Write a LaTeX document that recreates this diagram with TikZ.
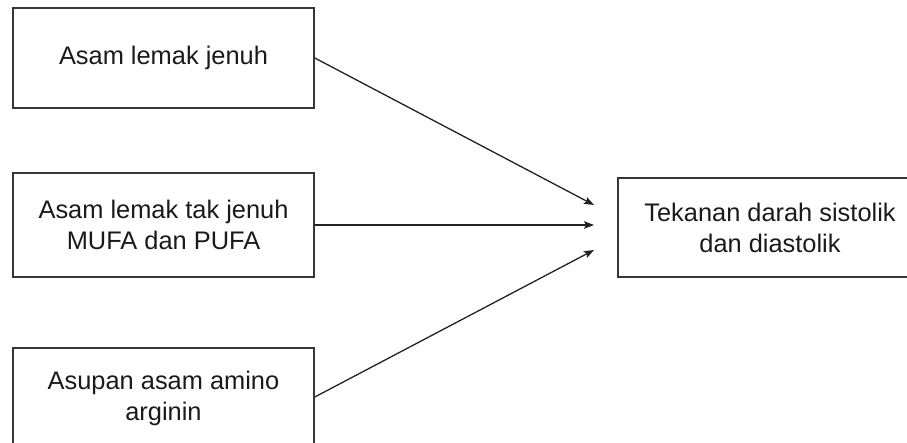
\documentclass[tikz,border=0pt]{standalone}
\usepackage{fontspec}
\setmainfont{Liberation Sans}
\usetikzlibrary{arrows.meta}
\definecolor{boxgray}{HTML}{363636}
\definecolor{textgray}{HTML}{1A1A1A}
\definecolor{linegray}{HTML}{222222}
\begin{document}
\begin{tikzpicture}[x=1pt,y=-1pt,
  box/.style={draw=boxgray, line width=1.6pt, align=center, text=textgray,
    font=\fontsize{25.4}{31}\selectfont, inner sep=0pt},
  link/.style={draw=linegray, line width=1.3pt,
    -{Stealth[length=10pt,width=7.5pt,inset=2pt]}}]
\useasboundingbox (0,0) rectangle (907,443);
\clip (0,0) rectangle (907,443);

% factor boxes
\node[box, minimum width=301pt, minimum height=100pt] (a) at (163.5,58) {Asam lemak jenuh};
\node[box, minimum width=301pt, minimum height=104pt] (b) at (163.5,225) {Asam lemak tak jenuh\\MUFA dan PUFA};
\node[box, minimum width=301pt, minimum height=100pt] (c) at (163.5,398) {Asupan asam amino\\arginin};

% outcome box
\node[box, minimum width=304pt, minimum height=99pt] (t) at (770,227.5) {Tekanan darah sistolik\\dan diastolik};

% arrow tips in front of the outcome box
\coordinate (ta) at (594,205);
\coordinate (tb) at (594,225);
\coordinate (tc) at (594,250);

\draw[link] (a.east) -- (ta);
\draw[link] (b.east) -- (tb);
\draw[link] (c.east |- 0,397) -- (tc);
\end{tikzpicture}
\end{document}
